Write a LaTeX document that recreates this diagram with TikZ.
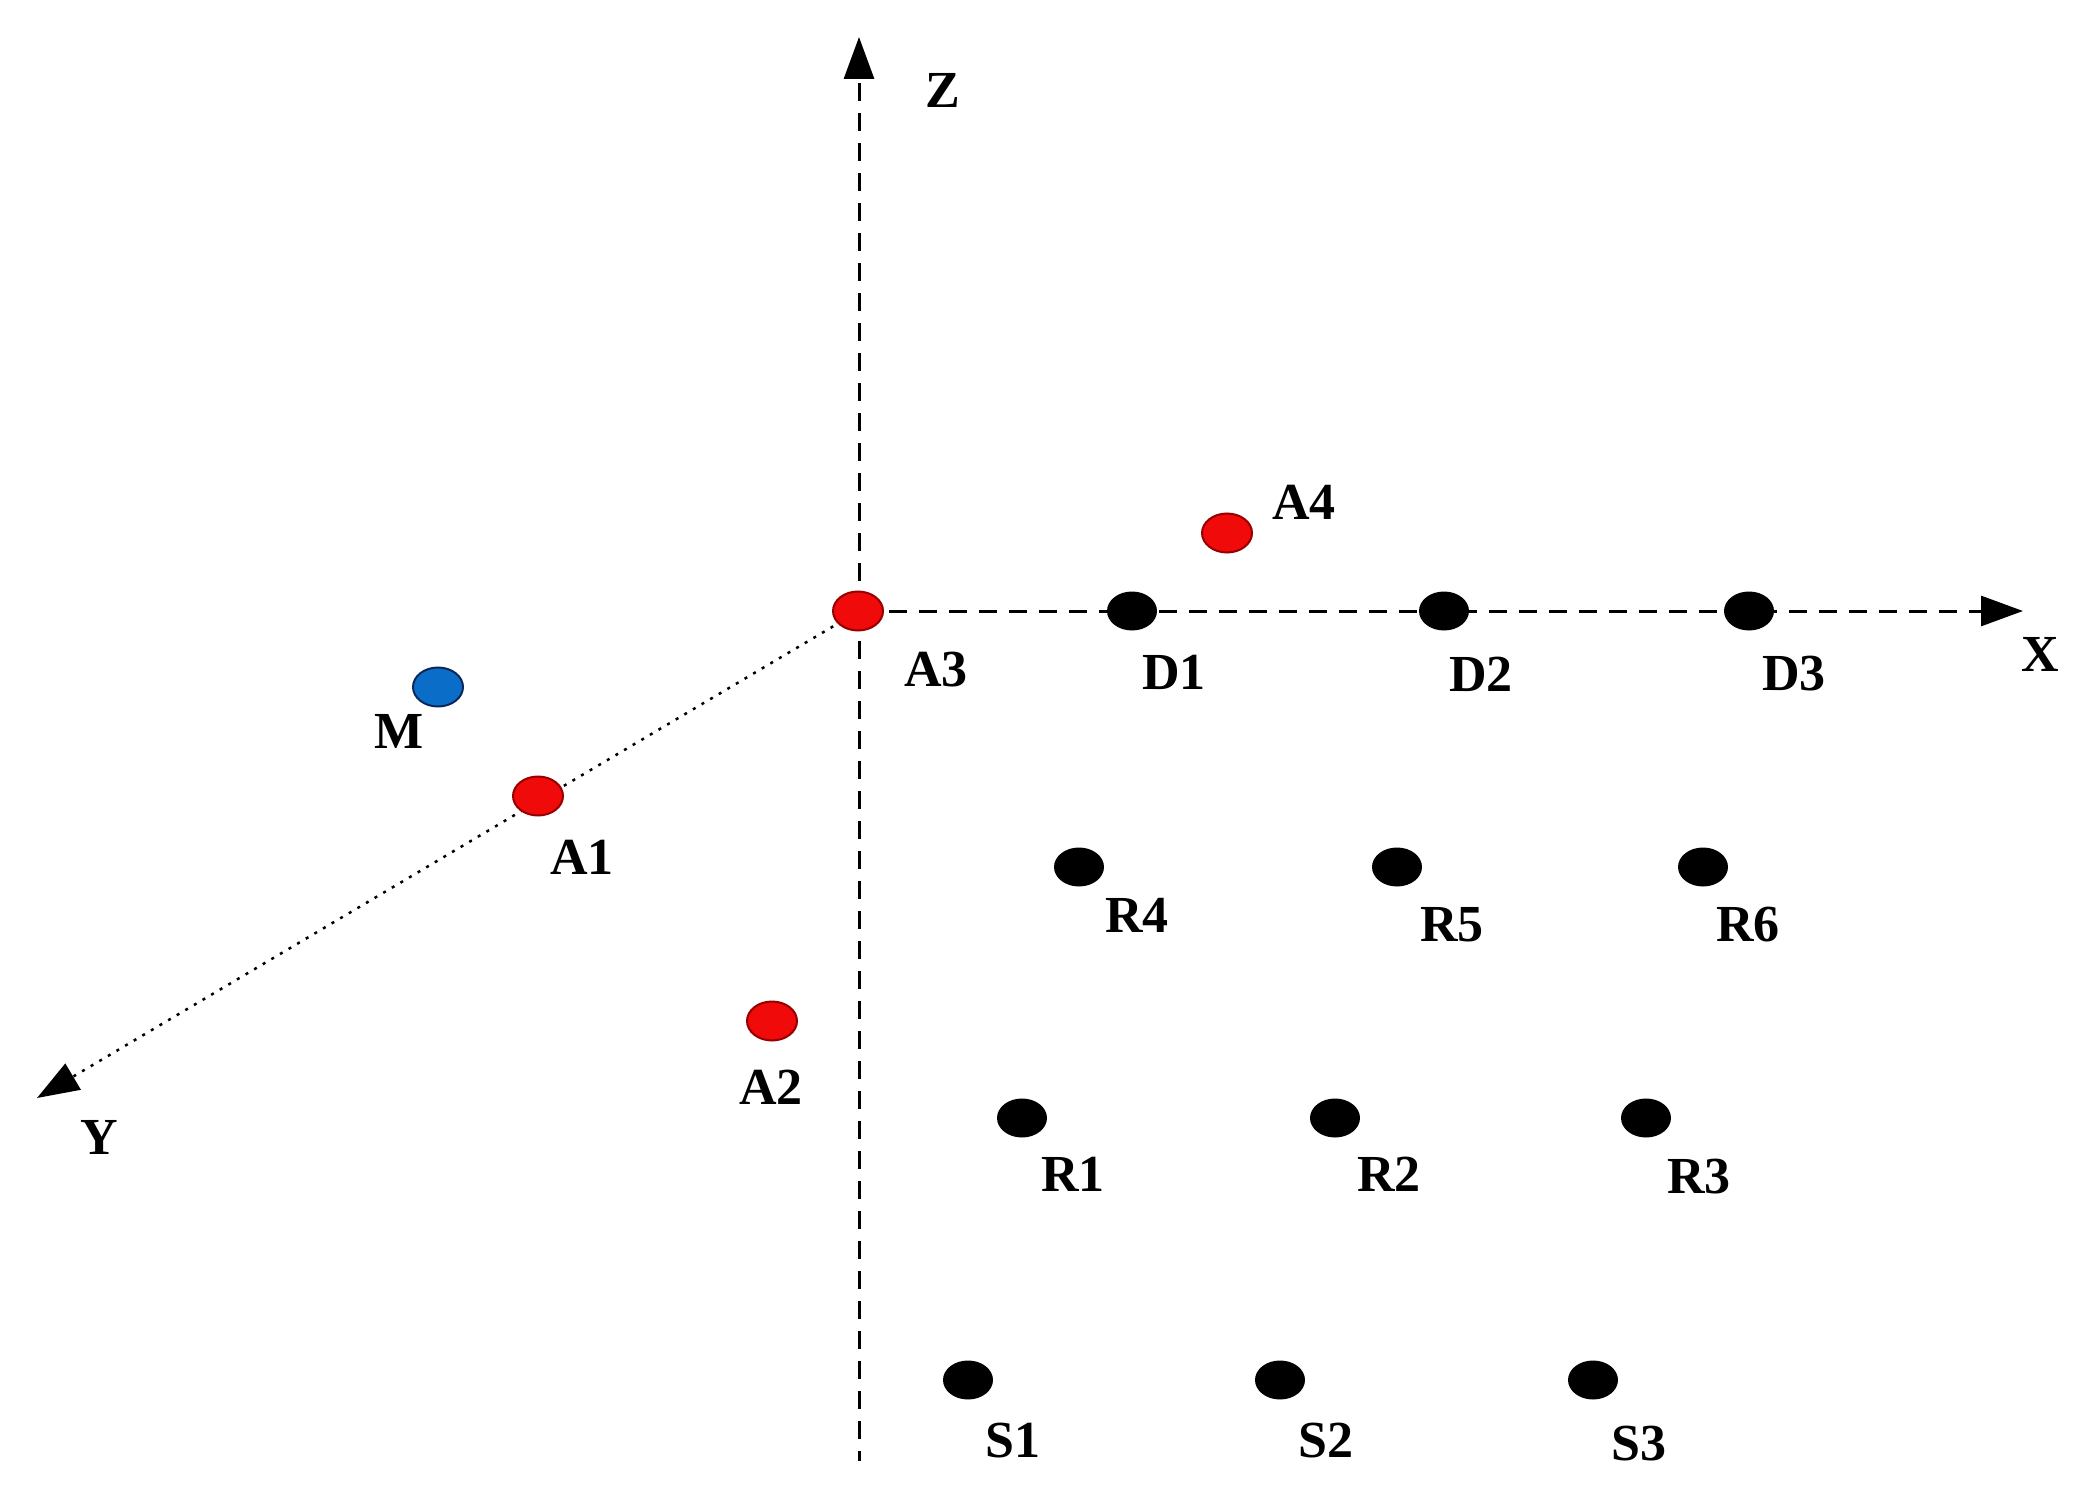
\documentclass[tikz,border=0pt]{standalone}
\usepackage{fontspec}
\setmainfont{Liberation Serif}
\usetikzlibrary{arrows.meta,shapes.geometric}
\definecolor{dotred}{RGB}{240,10,10}
\definecolor{dotredline}{RGB}{150,0,0}
\definecolor{dotblue}{RGB}{10,110,200}
\definecolor{dotblueline}{RGB}{10,40,90}
\begin{document}
\begin{tikzpicture}[x=1pt,y=-1pt,
  axis/.style={line width=3pt,dash pattern=on 18pt off 12pt,-{Triangle[length=42pt,width=30pt]}},
  yaxis/.style={line width=2.5pt,dash pattern=on 3pt off 7pt,-{Triangle[length=42pt,width=30pt]}},
  dotbase/.style={ellipse,minimum width=50pt,minimum height=39pt,inner sep=0pt},
  reddot/.style={dotbase,fill=dotred,draw=dotredline,line width=2pt},
  blackdot/.style={dotbase,fill=black},
  bluedot/.style={dotbase,fill=dotblue,draw=dotblueline,line width=2pt},
  lbl/.style={font=\fontsize{52}{60}\selectfont\bfseries,inner sep=0pt}]
\useasboundingbox (0,0) rectangle (2073,1495);
% axes coordinates
\coordinate (O) at (859,611);
\coordinate (zbot) at (859,1461);
\coordinate (ztip) at (859,37);
\coordinate (xtip) at (2023,611);
\coordinate (ytip) at (37,1098);
\draw[line width=3pt,dash pattern=on 18pt off 12pt] (O) -- (zbot);
\draw[axis] (O) -- (ztip);
\draw[axis] (O) -- (xtip);
\draw[yaxis] (O) -- (ytip);
\node[lbl] (zl) at (943,90) {Z};
\node[lbl] (xl) at (2040,654) {X};
\node[lbl] (yl) at (99,1137) {Y};
% dots
\node[reddot] (A3) at (858,611) {};
\node[lbl] (lA3) at (936,670) {A3};
\node[blackdot] (D1) at (1132,611) {};
\node[lbl] (lD1) at (1174,672) {D1};
\node[blackdot] (D2) at (1444,611) {};
\node[lbl] (lD2) at (1481,674) {D2};
\node[blackdot] (D3) at (1749,611) {};
\node[lbl] (lD3) at (1794,674) {D3};
\node[reddot] (A4) at (1227,533) {};
\node[lbl] (lA4) at (1304,502) {A4};
\node[bluedot] (M) at (438,687) {};
\node[lbl] (lM) at (399,731) {M};
\node[reddot] (A1) at (538,796) {};
\node[lbl] (lA1) at (582,857) {A1};
\node[reddot] (A2) at (772,1021) {};
\node[lbl] (lA2) at (771,1087) {A2};
\node[blackdot] (R4) at (1079,867) {};
\node[lbl] (lR4) at (1137,915) {R4};
\node[blackdot] (R5) at (1397,867) {};
\node[lbl] (lR5) at (1452,925) {R5};
\node[blackdot] (R6) at (1703,867) {};
\node[lbl] (lR6) at (1748,925) {R6};
\node[blackdot] (R1) at (1022,1118) {};
\node[lbl] (lR1) at (1073,1174) {R1};
\node[blackdot] (R2) at (1335,1118) {};
\node[lbl] (lR2) at (1389,1174) {R2};
\node[blackdot] (R3) at (1646,1118) {};
\node[lbl] (lR3) at (1699,1177) {R3};
\node[blackdot] (S1) at (968,1380) {};
\node[lbl] (lS1) at (1013,1441) {S1};
\node[blackdot] (S2) at (1280,1380) {};
\node[lbl] (lS2) at (1326,1441) {S2};
\node[blackdot] (S3) at (1593,1380) {};
\node[lbl] (lS3) at (1639,1444) {S3};
\end{tikzpicture}
\end{document}
